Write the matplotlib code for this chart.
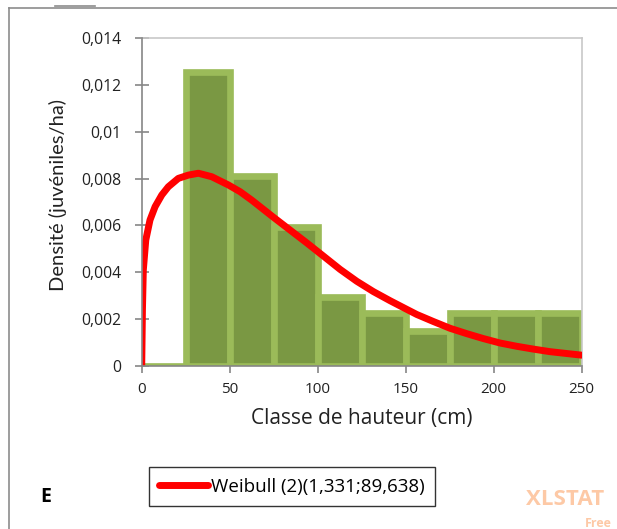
import numpy as np
import matplotlib.pyplot as plt
from matplotlib.lines import Line2D
from matplotlib.ticker import FuncFormatter

plt.rcParams['font.family'] = ['Open Sans', 'DejaVu Sans']

# histogram: height classes (cm) and densities
bin_left = [0, 25, 50, 75, 100, 125, 150, 175, 200, 225]
bin_width = 25
density = [0.0, 0.01256, 0.00812, 0.00592, 0.00295, 0.00224, 0.00150, 0.00224, 0.00224, 0.00224]

# fitted Weibull curve
curve_x = [0, 0.4, 0.9, 2.3, 4.7, 7.6, 11.4, 15.1, 20.8, 26.5, 32.2, 39.8, 49.2,
           55.9, 62.5, 74.8, 84.3, 93.8, 103.2, 112.7, 122.2, 131.6, 141.1, 150.6,
           156.3, 165.7, 175.2, 184.7, 194.1, 203.6, 213.1, 222.5, 232, 250]
curve_y = [0, 0.00238, 0.00409, 0.00537, 0.00623, 0.00680, 0.00730, 0.00765, 0.00801,
           0.00815, 0.00823, 0.00808, 0.00773, 0.00744, 0.00708, 0.00635, 0.00580,
           0.00525, 0.00469, 0.00412, 0.00361, 0.00317, 0.00278, 0.00241, 0.00219,
           0.00189, 0.00160, 0.00137, 0.00116, 0.00097, 0.00083, 0.00071, 0.00060, 0.00045]

legend_label = 'Weibull (2)(1,331;89,638)'
yticks = [0, 0.002, 0.004, 0.006, 0.008, 0.01, 0.012, 0.014]
xticks = [0, 50, 100, 150, 200, 250]

fig = plt.figure(figsize=(6.17, 5.29), dpi=100)
ax = fig.add_axes([0.2297, 0.3087, 0.7131, 0.6189])

ax.bar(bin_left, density, width=bin_width, align='edge', color='#7a9843',
       edgecolor='#9bbb59', linewidth=4.8, zorder=2)
ax.plot(curve_x, curve_y, color='#ff0000', linewidth=5, zorder=3,
        solid_capstyle='round', solid_joinstyle='round')

ax.set_xlim(0, 250)
ax.set_ylim(0, 0.014)
ax.set_xticks(xticks)
ax.set_yticks(yticks)
ax.yaxis.set_major_formatter(FuncFormatter(lambda v, p: ('%g' % v).replace('.', ',')))

for s in ['left', 'bottom']:
    ax.spines[s].set_color('#868686')
    ax.spines[s].set_linewidth(1.2)
    ax.spines[s].set_zorder(4)
for s in ['top', 'right']:
    ax.spines[s].set_color('#c8c8c8')
    ax.spines[s].set_linewidth(1.2)
ax.tick_params(axis='y', direction='inout', length=9.5, width=1.2, color='#868686',
               labelsize=11.3, labelcolor='#222222', pad=10)
ax.tick_params(axis='x', direction='out', length=5, width=1.2, color='#868686',
               labelsize=11, labelcolor='#222222', pad=7)

ax.set_xlabel('Classe de hauteur (cm)', fontsize=15, color='#222222')
ax.set_ylabel('Densité (juvéniles/ha)', fontsize=14.5, color='#222222',
              family=['Lato', 'DejaVu Sans'])
ax.xaxis.set_label_coords(0.5007, -0.13)
ax.yaxis.set_label_coords(-0.17, 0.52)

handle = Line2D([], [], color='#ff0000', linewidth=5, solid_capstyle='round')
leg = fig.legend([handle], [legend_label], loc='center', bbox_to_anchor=(0.4733, 0.0803),
                 frameon=True, fancybox=False, fontsize=13.5, handlelength=2.6,
                 handletextpad=0.15, borderpad=0.55, borderaxespad=0)
leg.get_frame().set_edgecolor('#000000')
leg.get_frame().set_linewidth(1.0)

fig.text(0.0746, 0.0605, 'E', fontsize=14, fontweight='bold', ha='center', va='center')
fig.text(0.853, 0.055, 'XLSTAT', fontsize=16, fontweight='bold', color='#fdc9a6',
         ha='left', va='center')
fig.text(0.948, 0.011, 'Free', fontsize=9, fontweight='bold', color='#fdc9a6',
         ha='left', va='center')

# frame of the original chart area
fig.add_artist(Line2D([9 / 617, 1], [1 - 8.3 / 529] * 2, color='#8c8c8c', linewidth=1.2))
fig.add_artist(Line2D([9 / 617] * 2, [0, 1 - 8.3 / 529], color='#8c8c8c', linewidth=1.2))
fig.add_artist(Line2D([55 / 617, 95 / 617], [1 - 6 / 529] * 2, color='#8c8c8c', linewidth=1.2))

fig.savefig('out.png', dpi=100)
